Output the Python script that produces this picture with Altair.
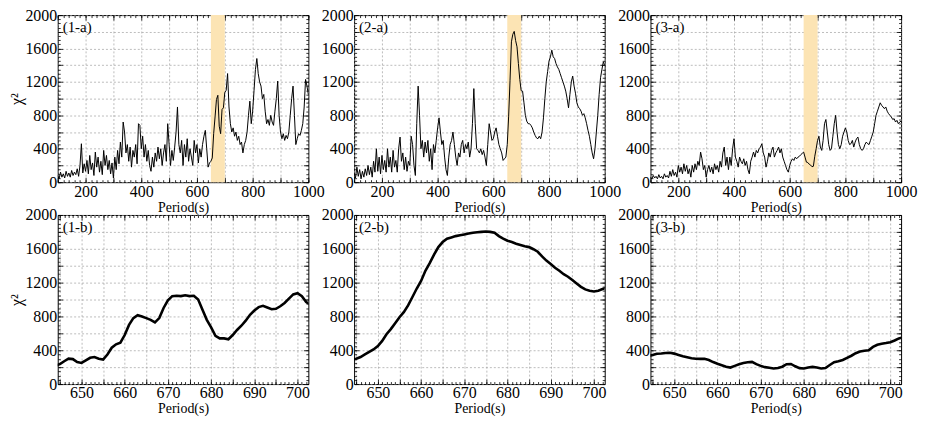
import altair as alt
import pandas as pd

# ---------------- data ----------------
PERIOD_TOP = list(range(100, 1001, 5))

CHI_1A = [
    80, 40, 120, 60, 100, 50, 130, 70, 110, 60,
    140, 80, 120, 90, 160, 70, 200, 460, 110, 220,
    130, 260, 100, 320, 150, 230, 80, 360, 180, 300,
    120, 250, 90, 380, 200, 320, 150, 260, 100, 230,
    50, 300, 150, 380, 220, 480, 300, 720, 600, 350,
    450, 250, 420, 180, 380, 300, 450, 220, 700, 680,
    400, 550, 300, 450, 250, 380, 200, 130, 300, 180,
    350, 250, 420, 280, 400, 200, 350, 450, 250, 700,
    450, 200, 380, 260, 420, 600, 900, 450, 350, 500,
    200, 450, 300, 520, 250, 400, 300, 200, 500, 350,
    450, 230, 400, 300, 450, 550, 620, 400, 180, 230,
    250, 290, 580, 780, 990, 1040, 670, 580, 870, 890,
    1075, 1100, 1300, 900, 700, 600, 650, 550, 600, 500,
    550, 450, 480, 350, 450, 500, 600, 800, 970, 700,
    850, 1100, 1350, 1480, 1300, 1200, 1150, 1000, 1050, 850,
    700, 750, 680, 800, 720, 680, 850, 1000, 1210, 800,
    600, 520, 580, 500, 560, 520, 600, 800, 1000, 1150,
    800, 450, 520, 580, 560, 620, 700, 900, 1230, 1150,
    1050,
]

CHI_2A = [
    100, 50, 180, 70, 150, 40, 130, 60, 160, 80,
    200, 90, 180, 60, 250, 120, 400, 130, 300, 100,
    320, 150, 260, 120, 400, 180, 300, 120, 380, 180,
    260, 120, 400, 540, 250, 350, 150, 300, 130, 250,
    200, 550, 450, 200, 80, 700, 1150, 800, 400, 500,
    300, 480, 350, 500, 250, 400, 150, 450, 350, 500,
    650, 770, 600, 450, 500, 300, 150, 80, 300, 450,
    500, 600, 450, 300, 200, 350, 300, 450, 500, 350,
    450, 400, 480, 300, 400, 700, 1120, 700, 400, 380,
    350, 400, 330, 380, 300, 200, 450, 700, 600, 500,
    520, 600, 650, 550, 450, 400, 350, 260, 280, 300,
    450, 790, 1220, 1680, 1770, 1805, 1695, 1620, 1420, 1230,
    1095, 1090, 950, 800, 730, 700, 700, 680, 650, 600,
    560, 530, 520, 550, 520, 600, 770, 1000, 1200, 1325,
    1450, 1500, 1580, 1500, 1480, 1420, 1380, 1350, 1300, 1250,
    1200, 1150, 1090, 1000, 890, 1050, 1200, 1270, 1150, 1065,
    950, 900, 880, 850, 800, 820, 770, 700, 620, 550,
    450, 350, 280, 400, 600, 800, 1050, 1250, 1350, 1440,
    1400,
]

CHI_3A = [
    60, 40, 80, 50, 70, 40, 90, 50, 70, 40,
    100, 60, 80, 50, 130, 70, 150, 80, 120, 60,
    200, 120, 180, 100, 220, 130, 200, 100, 160, 60,
    200, 120, 220, 150, 250, 200, 360, 280, 150, 200,
    60, 150, 200, 120, 180, 100, 220, 150, 200, 120,
    250, 180, 350, 420, 200, 300, 150, 300, 200, 400,
    520, 300, 250, 180, 300, 250, 220, 280, 200, 250,
    150, 100, 250, 300, 360, 300, 380, 350, 400, 420,
    460, 350, 300, 180, 250, 350, 300, 380, 420, 300,
    350, 380, 420, 350, 400, 300, 250, 200, 150, 120,
    200, 250, 280, 260, 300, 280, 300, 310, 330, 345,
    360, 300, 240, 235, 215, 205, 185, 190, 310, 400,
    500, 550, 420, 380, 500, 700, 750, 600, 450, 380,
    400, 550, 700, 800, 600, 450, 400, 450, 550, 600,
    650, 600, 500, 450, 460, 500, 420, 480, 520, 540,
    450, 400, 380, 400, 450, 480, 460, 450, 500, 550,
    600, 700, 800, 850, 900, 950, 920, 900, 880, 900,
    850, 820, 800, 780, 750, 760, 720, 740, 700, 720,
    730,
]

PERIOD_ZOOM = list(range(644, 704))

CHI_1B = [
    220, 235, 270, 300, 295, 260, 250, 280, 310, 320,
    300, 290, 350, 430, 470, 490, 580, 700, 780, 815,
    800, 780, 760, 730, 780, 900, 990, 1040, 1045, 1040,
    1050, 1040, 1045, 1000, 880, 760, 670, 570, 540, 540,
    530, 580, 640, 690, 750, 820, 870, 910, 925, 905,
    885, 890, 920, 960, 1010, 1060, 1075, 1040, 970, 940,
]

CHI_2B = [
    290, 300, 320, 350, 380, 410, 450, 510, 590, 650,
    720, 790, 850, 930, 1030, 1130, 1220, 1340, 1430, 1530,
    1620, 1680, 1720, 1735, 1750, 1760, 1770, 1780, 1790, 1795,
    1800, 1805, 1800, 1790, 1750, 1720, 1695, 1680, 1660, 1645,
    1630, 1620, 1595, 1565, 1510, 1460, 1420, 1375, 1340, 1300,
    1270, 1230, 1190, 1150, 1120, 1105, 1095, 1105, 1125, 1140,
]

CHI_3B = [
    330, 345, 358, 362, 368, 370, 360, 345, 330, 318,
    305, 300, 298, 300, 285, 260, 240, 222, 205, 195,
    215, 235, 250, 258, 262, 235, 215, 200, 192, 185,
    190, 205, 235, 238, 210, 188, 185, 195, 203, 195,
    185, 190, 225, 258, 270, 285, 310, 335, 365, 385,
    395, 400, 440, 465, 478, 485, 495, 515, 540, 555,
]

LABELS_TOP = ["(1-a)", "(2-a)", "(3-a)"]
LABELS_BOTTOM = ["(1-b)", "(2-b)", "(3-b)"]
BAND = [650, 700]
Y_DOMAIN = [0, 2000]
X_TOP_DOMAIN = [100, 1000]
X_ZOOM_DOMAIN = [644.5, 702.5]

# ---------------- styling ----------------
FONT = "Liberation Serif"
GRID = "#a0a0a0"
BAND_COLOR = "#FCE4B4"
W = 252


def panel(periods, values, label, top, first):
    h = 168 if top else 170
    width = W
    df = pd.DataFrame({"period": periods, "chi2": values})
    if top:
        dom = X_TOP_DOMAIN
        major = list(range(100, 1001, 100))
        minor = list(range(100, 1001, 20))
        step = 200
    else:
        dom = X_ZOOM_DOMAIN
        major = list(range(645, 703, 5))
        minor = list(range(645, 703))
        step = 10
    ymajor = list(range(0, 2001, 200))
    yminor = list(range(0, 2001, 50))
    xs = alt.Scale(domain=dom, nice=False, zero=False)
    ys = alt.Scale(domain=Y_DOMAIN, nice=False)
    base = alt.Chart(df)

    yaxis_kw = dict(
        orient="left", values=ymajor,
        labelExpr="datum.value % 400 === 0 ? datum.label : ''",
        format="d", ticks=False, tickSize=0, domain=False, grid=True,
        gridColor=GRID, gridDash=[2, 2], gridWidth=0.7, labelPadding=1,
        labelFlush=False,
    )
    if first:
        yaxis_kw.update(title="χ²", titleFontSize=16, titlePadding=0)
    else:
        yaxis_kw.update(title=None)

    main = base.mark_line(
        color="black", strokeWidth=1.0 if top else 2.6, clip=True
    ).encode(
        x=alt.X("period:Q", scale=xs, axis=alt.Axis(
            orient="bottom", values=major,
            labelExpr=f"datum.value % {step} === 0 ? datum.label : ''",
            format="d", ticks=False, tickSize=0, domain=False, grid=True,
            gridColor=GRID, gridDash=[2, 2], gridWidth=0.7,
            title="Period(s)", titlePadding=1, labelPadding=1,
            labelFlush=False)),
        y=alt.Y("chi2:Q", scale=ys, axis=alt.Axis(**yaxis_kw)),
    )

    def edge_ticks(ox, oy, xv, yv, size):
        return base.mark_point(opacity=0, clip=True).encode(
            x=alt.X("period:Q", scale=xs, axis=alt.Axis(
                orient=ox, offset=-h, values=xv, tickSize=size,
                labels=False, domain=False, grid=False, title=None,
                tickColor="black", tickWidth=0.8)),
            y=alt.Y("chi2:Q", scale=ys, axis=alt.Axis(
                orient=oy, offset=-width, values=yv, tickSize=size,
                labels=False, domain=False, grid=False, title=None,
                tickColor="black", tickWidth=0.8)),
        )

    layers = []
    if top:
        band = alt.Chart(pd.DataFrame({"start": [BAND[0]], "end": [BAND[1]]})).mark_rect(
            color=BAND_COLOR
        ).encode(
            x=alt.X("start:Q", scale=xs, axis=None),
            x2="end:Q",
            y=alt.value(0),
            y2=alt.value(h),
        )
        layers.append(band)
    layers.append(main)
    layers.append(edge_ticks("top", "right", major, ymajor, 5))
    layers.append(edge_ticks("top", "right", minor, yminor, 2.5))
    layers.append(edge_ticks("bottom", "left", major, ymajor, 5))
    layers.append(edge_ticks("bottom", "left", minor, yminor, 2.5))
    text = alt.Chart(pd.DataFrame({"t": [label]})).mark_text(
        align="left", baseline="top", font=FONT, fontSize=15, color="black"
    ).encode(x=alt.value(5), y=alt.value(5), text="t:N")
    layers.append(text)

    return alt.layer(*layers).properties(width=width, height=h).resolve_axis(
        x="independent", y="independent"
    )


tops = [CHI_1A, CHI_2A, CHI_3A]
bottoms = [CHI_1B, CHI_2B, CHI_3B]

panels = [panel(PERIOD_TOP, tops[i], LABELS_TOP[i], True, i == 0) for i in range(3)]
panels += [panel(PERIOD_ZOOM, bottoms[i], LABELS_BOTTOM[i], False, i == 0) for i in range(3)]

chart = alt.concat(
    *panels, columns=3, bounds="flush", spacing={"row": 33, "column": 46}
).configure(
    padding={"left": 0, "top": -3, "right": 0, "bottom": -1}
).configure_view(
    stroke="black", strokeWidth=1
).configure_axis(
    labelFont=FONT, titleFont=FONT, labelFontSize=16, titleFontSize=14,
    labelColor="black", titleColor="black", titleFontWeight="normal",
)

chart.save("out.html", embed_options={"renderer": "svg", "actions": False})
